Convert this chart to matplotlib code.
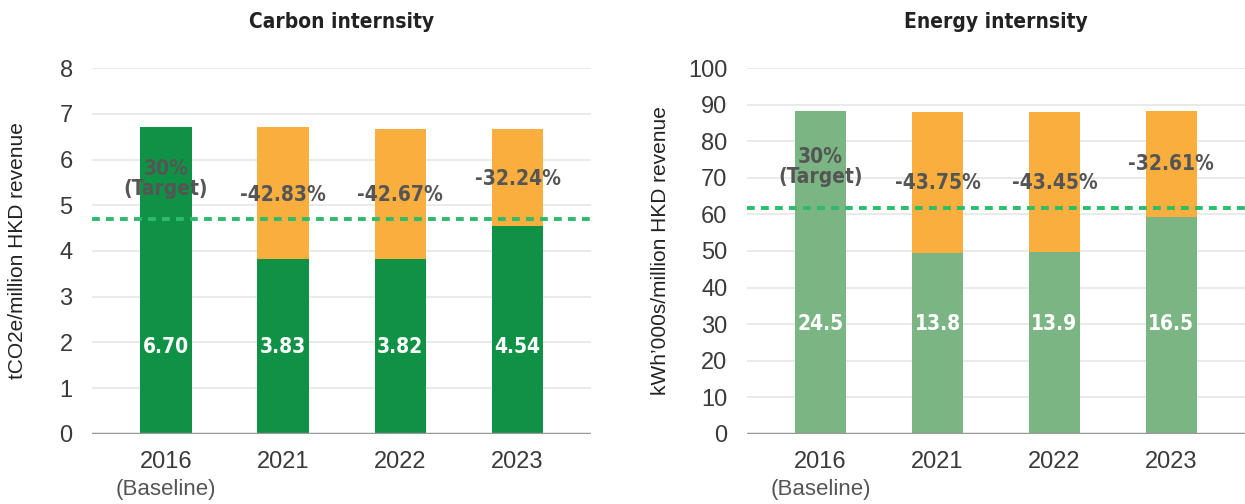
import numpy as np
import matplotlib.pyplot as plt
from matplotlib import font_manager

# fuentes: busco alguna condensada (para titulos y etiquetas) ======
fl = font_manager.fontManager.ttflist
cands = [f for f in fl if ('Narrow' in f.name or 'Condensed' in f.fname or f.stretch == 'condensed'
                           or 'Condensed' in f.name)]
cond_prop = None
for f in cands:
    if f.weight in ('bold', 700) or 'Bold' in f.fname:
        cond_prop = font_manager.FontProperties(fname=f.fname)
        break
if cond_prop is None:
    cond_prop = font_manager.FontProperties(family='Liberation Sans', weight='bold')
plt.rcParams['font.family'] = ['Liberation Sans', 'DejaVu Sans']

# DATOS ============================================================
years = ['2016', '2021', '2022', '2023']
carbon_labels = ['6.70', '3.83', '3.82', '4.54']
carbon_low = [6.70, 3.83, 3.82, 4.54]
carbon_total = [6.70, 6.70, 6.67, 6.67]
carbon_pct = ['30%\n(Target)', '-42.83%', '-42.67%', '-32.24%']
carbon_pct_y = [5.57, 5.23, 5.22, 5.58]
carbon_target = 4.69

energy_labels = ['24.5', '13.8', '13.9', '16.5']
energy_low = [88.3, 49.5, 49.8, 59.3]
energy_total = [88.3, 87.9, 87.9, 88.3]
energy_pct = ['30%\n(Target)', '-43.75%', '-43.45%', '-32.61%']
energy_pct_y = [73.0, 68.6, 68.6, 73.8]
energy_target = 61.8

# colores
c_dark = '#0f9245'
c_light = '#7bb583'
c_orange = '#f9ae3d'
c_dash = '#2dbb6c'
c_grid = '#e6e6e6'
c_txt = '#3a3a3a'
c_pct = '#555555'

fig = plt.figure(figsize=(12.45, 5.04), dpi=100)
ax1 = fig.add_axes([0.074, 0.139, 0.401, 0.726])
ax2 = fig.add_axes([0.600, 0.139, 0.400, 0.726])


def panel(ax, title, ylabel, low, total, labels, pct, pct_y, target, ymax, ystep, green, lab_y):
    x = np.arange(len(years))
    top = np.array(total) - np.array(low)
    ax.bar(x, low, width=0.44, color=green, zorder=2)
    ax.bar(x, top, bottom=low, width=0.44, color=c_orange, zorder=2)
    ax.axhline(0, color='#999999', lw=2.5, zorder=4)
    ax.axhline(target, color=c_dash, lw=2.8, ls=(0, (2.0, 1.6)), zorder=5)
    for xi, l in zip(x, labels):
        ax.text(xi, lab_y, l, ha='center', va='center', color='white',
                fontproperties=cond_prop, fontsize=15, zorder=6)
    for xi, p, py in zip(x, pct, pct_y):
        ax.text(xi, py, p, ha='center', va='center', color=c_pct,
                fontproperties=cond_prop, fontsize=15, zorder=6, linespacing=1.0)
    ax.set_ylim(0, ymax)
    ax.set_yticks(np.arange(0, ymax + 0.1, ystep))
    ax.yaxis.grid(True, color=c_grid, lw=1.2, zorder=0)
    ax.set_axisbelow(True)
    ax.set_xlim(-0.63, 3.63)
    ax.set_xticks(x)
    ax.set_xticklabels(years)
    for s in ax.spines.values():
        s.set_visible(False)
    ax.tick_params(axis='both', length=0, labelsize=17, labelcolor=c_txt)
    ax.tick_params(axis='x', pad=12)
    ax.tick_params(axis='y', pad=14)
    ax.text(0, -0.153, '(Baseline)', transform=ax.get_xaxis_transform(), ha='center',
            va='center', fontsize=16, color=c_pct)
    ax.set_ylabel(ylabel, fontsize=15, color='#222222')
    ax.set_title(title, fontproperties=cond_prop, fontsize=15, color='#222222', pad=29)


panel(ax1, 'Carbon internsity', 'tCO2e/million HKD revenue', carbon_low, carbon_total,
      carbon_labels, carbon_pct, carbon_pct_y, carbon_target, 8, 1, c_dark, 1.9)
panel(ax2, 'Energy internsity', 'kWh\u2019000s/million HKD revenue', energy_low, energy_total,
      energy_labels, energy_pct, energy_pct_y, energy_target, 100, 10, c_light, 30)

ax1.yaxis.set_label_coords(-0.13, 0.5)
ax2.yaxis.set_label_coords(-0.155, 0.5)

plt.savefig('out.png', dpi=100)
